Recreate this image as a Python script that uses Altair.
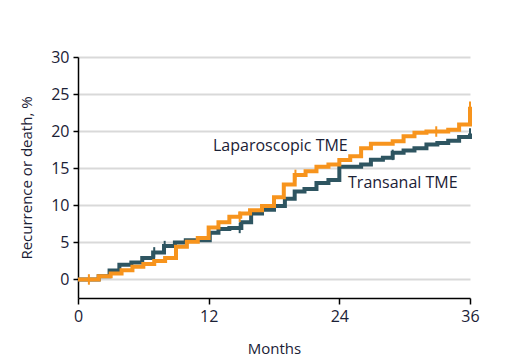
import altair as alt
import pandas as pd

# Kaplan-Meier style cumulative incidence (step changes: month, value after step)
lap_months = [0, 1.9, 3.0, 4.0, 5.0, 6.0, 7.0, 8.0, 9.0, 10.0, 11.0, 12.0, 12.9, 13.9, 14.9,
              15.8, 16.9, 18.0, 18.9, 19.9, 20.9, 21.9, 23.0, 24.0, 25.0, 26.0, 26.9, 28.9,
              29.9, 30.9, 32.0, 34.0, 35.0, 36.0, 36.0]
lap_values = [0, 0.45, 0.8, 1.25, 1.7, 2.1, 2.5, 2.9, 4.4, 5.1, 5.6, 7.0, 7.7, 8.45, 8.9,
              9.35, 9.9, 11.1, 12.8, 14.1, 14.6, 15.2, 15.5, 16.1, 16.6, 17.7, 18.3, 18.65,
              19.3, 19.8, 19.95, 20.2, 20.9, 20.9, 23.3]

tra_months = [0, 1.9, 2.9, 3.8, 4.9, 5.9, 6.9, 7.9, 8.9, 9.9, 12.1, 12.9, 13.9, 15.0, 15.9,
              16.9, 18.0, 19.0, 19.9, 20.8, 21.9, 23.0, 24.0, 26.0, 26.9, 28.0, 28.9, 29.9,
              30.9, 32.0, 33.0, 34.0, 35.0, 36.0, 36.0]
tra_values = [0, 0.45, 1.2, 2.0, 2.3, 2.9, 3.65, 4.5, 5.0, 5.3, 6.3, 6.8, 6.95, 7.7, 8.9,
              9.4, 9.9, 10.9, 11.85, 12.2, 13.0, 13.4, 15.2, 15.5, 16.15, 16.4, 17.1, 17.4,
              17.7, 18.2, 18.4, 18.7, 19.2, 19.2, 19.7]

lap_censor_months = [1.0, 14.85, 19.97, 32.9, 36.0]
lap_censor_values = [0.0, 8.45, 14.1, 19.95, 23.3]
tra_censor_months = [7.0, 7.96, 14.85, 28.9, 36.0]
tra_censor_values = [3.65, 4.5, 6.95, 16.8, 19.7]

group_names = ["Laparoscopic TME", "Transanal TME"]
label_months = [12.4, 24.8]
label_values = [18.0, 13.05]

x_ticks = [0, 12, 24, 36]
y_ticks = [0, 5, 10, 15, 20, 25, 30]

ORANGE = "#F7941D"
TEAL = "#2E5561"
FONT = "Open Sans"

lap_df = pd.DataFrame({"month": lap_months, "value": lap_values, "idx": range(len(lap_months))})
tra_df = pd.DataFrame({"month": tra_months, "value": tra_values, "idx": range(len(tra_months))})
lap_c = pd.DataFrame({"month": lap_censor_months, "value": lap_censor_values})
tra_c = pd.DataFrame({"month": tra_censor_months, "value": tra_censor_values})
lab_df = pd.DataFrame({"month": label_months, "value": label_values, "name": group_names})

x_enc = alt.X("month:Q",
              scale=alt.Scale(domain=[0, 36], nice=False, zero=False),
              axis=alt.Axis(values=x_ticks, title="Months", grid=False, tickSize=6,
                            labelPadding=4, titlePadding=17, labelFlush=False))
y_enc = alt.Y("value:Q",
              scale=alt.Scale(domain=[-2.5, 30], nice=False, zero=False),
              axis=alt.Axis(values=y_ticks, title="Recurrence or death, %", grid=True,
                            tickSize=5, labelPadding=4, titlePadding=16))

def step_line(df, color):
    return alt.Chart(df).mark_line(interpolate="step-after", color=color, strokeWidth=4,
                                   strokeCap="butt").encode(x=x_enc, y=y_enc, order="idx:Q")

def censor(df, color):
    return alt.Chart(df).mark_point(shape="M0,-1L0,1", color=color, size=110, filled=False,
                                    strokeWidth=2, opacity=1).encode(x=x_enc, y=y_enc)

labels = alt.Chart(lab_df).mark_text(align="left", baseline="middle", font=FONT,
                                     fontSize=16, color="#1b2136").encode(
    x=x_enc, y=y_enc, text="name:N")

chart = alt.layer(
    step_line(tra_df, TEAL), censor(tra_c, TEAL),
    step_line(lap_df, ORANGE), censor(lap_c, ORANGE),
    labels,
).properties(
    width=392, height=241,
    autosize=alt.AutoSizeParams(type="none"),
    padding={"left": 70, "top": 49, "right": 29, "bottom": 62},
).configure_view(stroke=None).configure_axis(
    domainColor="#000000", domainWidth=1.5, tickColor="#000000", tickWidth=1.5,
    gridColor="#d9d9d9", gridWidth=2,
    labelFont=FONT, labelFontSize=16, labelColor="#1b2136",
    titleFont=FONT, titleFontSize=15, titleColor="#1b2136", titleFontWeight="normal",
)

chart.save("out.html", embed_options={"renderer": "svg", "actions": False})
